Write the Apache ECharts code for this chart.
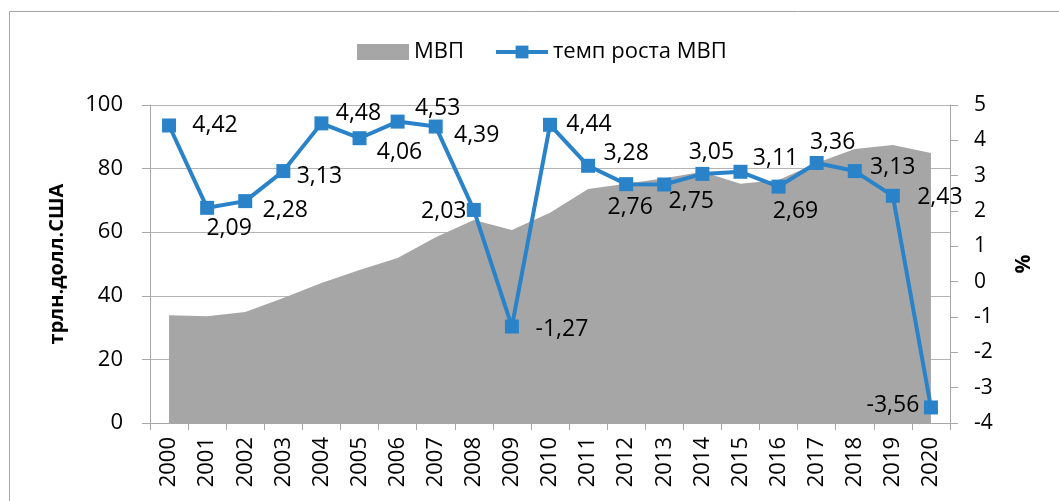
<!DOCTYPE html>
<html><head><meta charset="utf-8">
<script src="https://cdn.jsdelivr.net/npm/echarts@6/dist/echarts.min.js"></script>
<style>html,body{margin:0;padding:0;background:#fff}#c{width:1059px;height:501px}</style>
</head><body><div id="c"></div>
<script>
const years = ['2000','2001','2002','2003','2004','2005','2006','2007','2008','2009','2010','2011','2012','2013','2014','2015','2016','2017','2018','2019','2020'];
const gdp = [33.9, 33.6, 34.9, 39.3, 44.0, 48.1, 51.9, 58.4, 63.8, 60.7, 66.1, 73.6, 75.2, 77.0, 79.0, 75.2, 76.4, 81.8, 86.2, 87.4, 84.9];
const growth = [4.42, 2.09, 2.28, 3.13, 4.48, 4.06, 4.53, 4.39, 2.03, -1.27, 4.44, 3.28, 2.76, 2.75, 3.05, 3.11, 2.69, 3.36, 3.13, 2.43, -3.56];
const leftTicks = [0, 20, 40, 60, 80, 100];
const rightTicks = [-4, -3, -2, -1, 0, 1, 2, 3, 4, 5];

// label offsets (style, not data)
const labelOffsets = [[46,0],[22,21],[40,9],[36,5],[37,-10],[40,14],[40,-13],[41,9],[-30,2],[50,3],[39,0],[38,-12],[4,23],[27,17],[9,-21],[35,-13],[17,25],[16,-20],[38,-4],[47,2],[-38,-2]];

const FONT = 'Open Sans';
const chart = echarts.init(document.getElementById('c'));
chart.setOption({
  animation: false,
  textStyle: {fontFamily: FONT},
  graphic: [{type:'rect', shape:{x:9.5, y:11.5, width:1100, height:600}, style:{fill:'none', stroke:'#a6a6a6', lineWidth:1}, silent:true, z:-10}],
  legend: {
    top: 36, left: 352, itemGap: 30, itemWidth: 52, itemHeight: 16,
    textStyle: {fontSize: 22, color:'#000', fontFamily: FONT},
    data: [{name:'МВП', icon:'rect'}, {name:'темп роста МВП', lineStyle:{width:4}}]
  },
  grid: {left:150, right:109, top:105, bottom:78},
  xAxis: {
    type:'category', data: years, boundaryGap: true,
    axisLine:{lineStyle:{color:'#a6a6a6', width:1}},
    axisTick:{show:true, length:7, alignWithLabel:false, lineStyle:{color:'#a6a6a6'}},
    axisLabel:{rotate:90, fontSize:22, color:'#000', margin:14, interval:0}
  },
  yAxis: [{
    type:'value', min:leftTicks[0], max:leftTicks[leftTicks.length-1], interval:20,
    name:'трлн.долл.США', nameLocation:'middle', nameGap:83, nameRotate:90,
    nameTextStyle:{fontSize:20, fontWeight:'bold', color:'#000'},
    axisLine:{show:true, lineStyle:{color:'#a6a6a6'}},
    axisTick:{show:true, length:8, lineStyle:{color:'#a6a6a6'}},
    axisLabel:{fontSize:22, color:'#000', margin:27},
    splitLine:{show:true, lineStyle:{color:'#b4b4b4', width:1}}
  },{
    type:'value', min:rightTicks[0], max:rightTicks[rightTicks.length-1], interval:1, position:'right',
    name:'%', nameLocation:'middle', nameGap:64, nameRotate:90,
    nameTextStyle:{fontSize:21, fontWeight:'bold', color:'#000'},
    axisLine:{show:true, lineStyle:{color:'#a6a6a6'}},
    axisTick:{show:true, length:8, lineStyle:{color:'#a6a6a6'}},
    axisLabel:{fontSize:21, color:'#000', margin:24},
    splitLine:{show:false}
  }],
  series: [{
    name:'МВП', type:'line', data: gdp, yAxisIndex:0,
    symbol:'none', lineStyle:{width:0}, areaStyle:{color:'#a6a6a6', opacity:1},
    itemStyle:{color:'#a6a6a6'}, z:1
  },{
    name:'темп роста МВП', type:'line', yAxisIndex:1,
    data: growth.map((v,i)=>({value:v, label:{position:'inside', offset:labelOffsets[i]}})),
    symbol:'rect', symbolSize:14,
    lineStyle:{color:'#2a83c9', width:4}, itemStyle:{color:'#2a83c9'},
    label:{show:true, fontSize:23, color:'#000', fontFamily:FONT,
      formatter: p => String(p.value).replace('.', ',')},
    z:3
  }]
});
</script></body></html>
